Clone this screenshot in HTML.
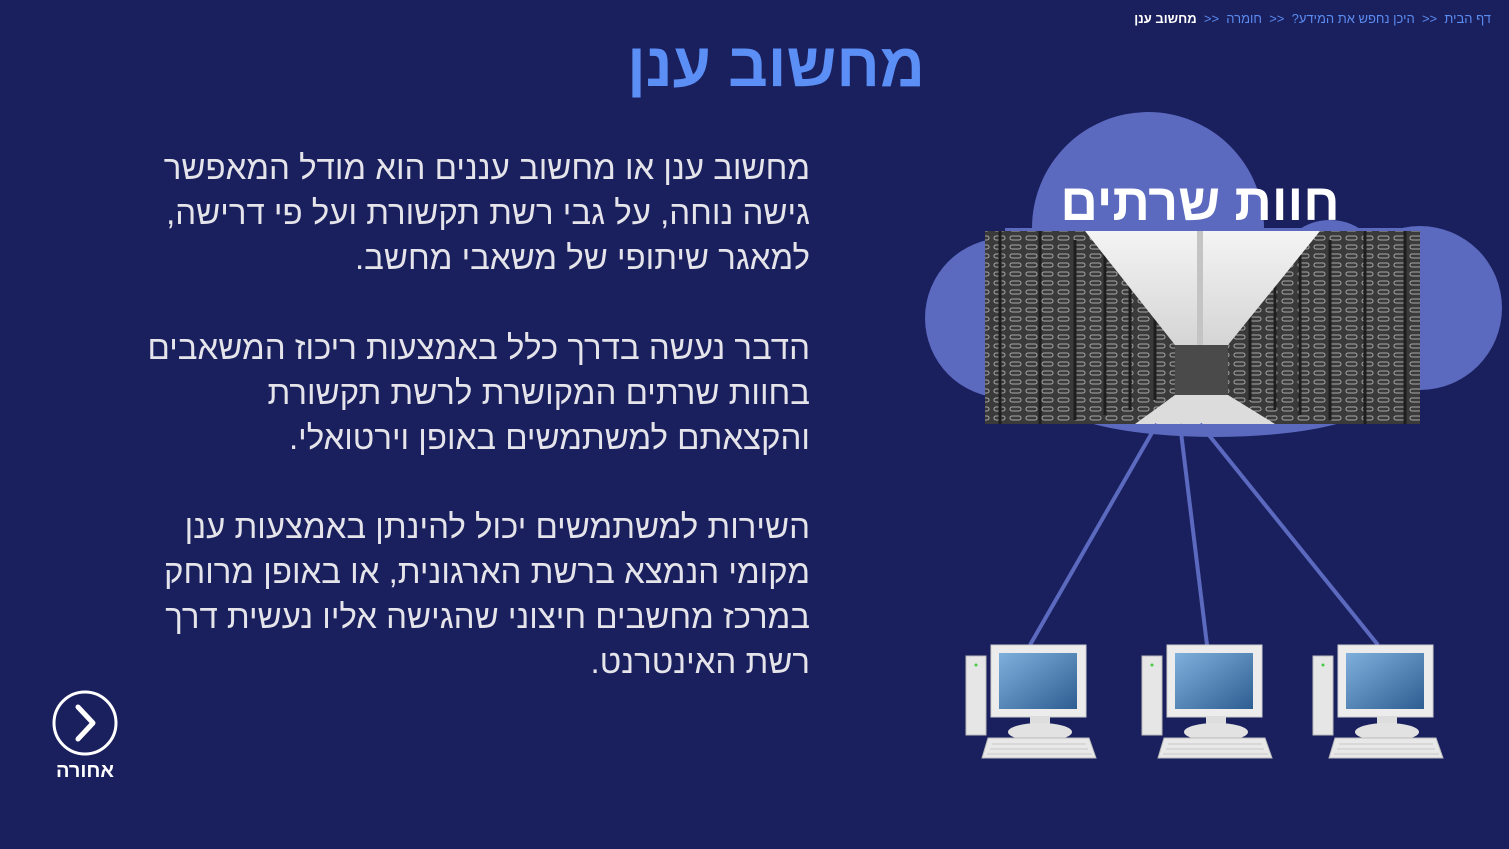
<!DOCTYPE html>
<html><head><meta charset="utf-8"><style>
html,body{margin:0;padding:0;}
body{width:1509px;height:849px;background:#1a1f5e;position:relative;overflow:hidden;font-family:"Liberation Sans","Noto Sans CJK SC",sans-serif;}
.t{position:absolute;direction:rtl;white-space:nowrap;}
#crumb{top:11px;right:18px;font-size:13px;color:#5b8cf0;}
#crumb b{color:#fff;}
#title{top:30px;left:576px;width:400px;text-align:center;font-size:62px;font-weight:bold;color:#5b8ff5;}
.p{right:699px;font-size:33px;color:#e4e4ea;line-height:45px;text-align:right;}
#back{left:40px;top:760px;width:90px;text-align:center;font-size:20px;font-weight:bold;color:#fff;}
</style></head><body>
<svg width="1509" height="849" style="position:absolute;left:0;top:0">
<defs>
<linearGradient id="scr" x1="0" y1="0" x2="1" y2="1"><stop offset="0" stop-color="#7fb0dc"/><stop offset="1" stop-color="#2e5e92"/></linearGradient>
<linearGradient id="ceil" x1="0" y1="0" x2="0" y2="1"><stop offset="0" stop-color="#f4f4f4"/><stop offset="1" stop-color="#d5d5d5"/></linearGradient>
<pattern id="rack" width="16" height="9" patternUnits="userSpaceOnUse"><rect width="16" height="9" fill="#3a3a3a"/><rect x="2" y="2" width="11" height="4" rx="2" fill="none" stroke="#a8a8a8" stroke-width="1"/></pattern>
<g id="pc">
<rect x="0" y="11" width="20" height="79" fill="#e6e6e6" stroke="#bbb"/>
<circle cx="10" cy="20" r="1.5" fill="#4c4"/>
<rect x="25" y="0" width="95" height="72" fill="#ececec" stroke="#ccc"/>
<rect x="33" y="8" width="78" height="56" fill="url(#scr)"/>
<rect x="64" y="72" width="20" height="8" fill="#ddd"/>
<ellipse cx="74" cy="87" rx="32" ry="9" fill="#e2e2e2"/>
<path d="M22 93 H123 L130 113 H16 Z" fill="#e8e8e8" stroke="#bbb"/>
<path d="M26 99 H120 M24 104 H122 M21 109 H126" stroke="#c8c8c8"/>
</g>
</defs>
<g fill="#5b6abf">
<circle cx="1148" cy="228" r="116"/>
<circle cx="1005" cy="318" r="80"/>
<circle cx="1420" cy="308" r="82"/>
<circle cx="1330" cy="275" r="55"/>
<rect x="1005" y="228" width="415" height="170"/>
<ellipse cx="1215" cy="400" rx="160" ry="37"/>
</g>
<text x="1200" y="220" text-anchor="middle" font-size="52" font-weight="bold" fill="#fff" direction="rtl" font-family="Liberation Sans, Noto Sans CJK SC, sans-serif">חוות שרתים</text>
<rect x="985" y="231" width="435" height="193" fill="url(#rack)"/>
<g stroke="#1e1e1e" stroke-width="3">
<line x1="1000" y1="231" x2="1000" y2="424"/><line x1="1040" y1="231" x2="1040" y2="424"/><line x1="1075" y1="240" x2="1075" y2="420"/><line x1="1105" y1="255" x2="1105" y2="415"/><line x1="1130" y1="280" x2="1130" y2="410"/><line x1="1155" y1="310" x2="1155" y2="400"/>
<line x1="1405" y1="231" x2="1405" y2="424"/><line x1="1365" y1="231" x2="1365" y2="424"/><line x1="1330" y1="240" x2="1330" y2="420"/><line x1="1300" y1="255" x2="1300" y2="415"/><line x1="1275" y1="280" x2="1275" y2="410"/><line x1="1250" y1="310" x2="1250" y2="400"/>
</g>
<polygon points="1085,231 1320,231 1228,345 1175,345" fill="url(#ceil)"/>
<polygon points="1175,345 1228,345 1228,395 1175,395" fill="#4a4a4a"/>
<polygon points="1135,424 1275,424 1228,395 1175,395" fill="#dcdcdc"/>
<line x1="1200" y1="231" x2="1200" y2="345" stroke="#c4c4c4" stroke-width="6"/>
<g stroke="#5b6abf" stroke-width="4">
<line x1="1157" y1="424" x2="1030" y2="645"/>
<line x1="1180" y1="424" x2="1207" y2="645"/>
<line x1="1200" y1="424" x2="1378" y2="645"/>
</g>
<use href="#pc" x="966" y="645"/>
<use href="#pc" x="1142" y="645"/>
<use href="#pc" x="1313" y="645"/>
<circle cx="85" cy="723" r="31" fill="none" stroke="#fff" stroke-width="3"/>
<path d="M78 707 L93 723 L78 739" fill="none" stroke="#fff" stroke-width="5" stroke-linecap="round" stroke-linejoin="round"/>
</svg>
<div class="t" id="crumb">דף הבית &nbsp;&lt;&lt;&nbsp; היכן נחפש את המידע? &nbsp;&lt;&lt;&nbsp; חומרה &nbsp;&lt;&lt;&nbsp; <b>מחשוב ענן</b></div>
<div class="t" id="title">מחשוב ענן</div>
<div class="t p" style="top:145px">מחשוב ענן או מחשוב עננים הוא מודל המאפשר<br>גישה נוחה, על גבי רשת תקשורת ועל פי דרישה,<br>למאגר שיתופי של משאבי מחשב.</div>
<div class="t p" style="top:325px">הדבר נעשה בדרך כלל באמצעות ריכוז המשאבים<br>בחוות שרתים המקושרת לרשת תקשורת<br>והקצאתם למשתמשים באופן וירטואלי.</div>
<div class="t p" style="top:504px">השירות למשתמשים יכול להינתן באמצעות ענן<br>מקומי הנמצא ברשת הארגונית, או באופן מרוחק<br>במרכז מחשבים חיצוני שהגישה אליו נעשית דרך<br>רשת האינטרנט.</div>
<div class="t" id="back">אחורה</div>
</body></html>
